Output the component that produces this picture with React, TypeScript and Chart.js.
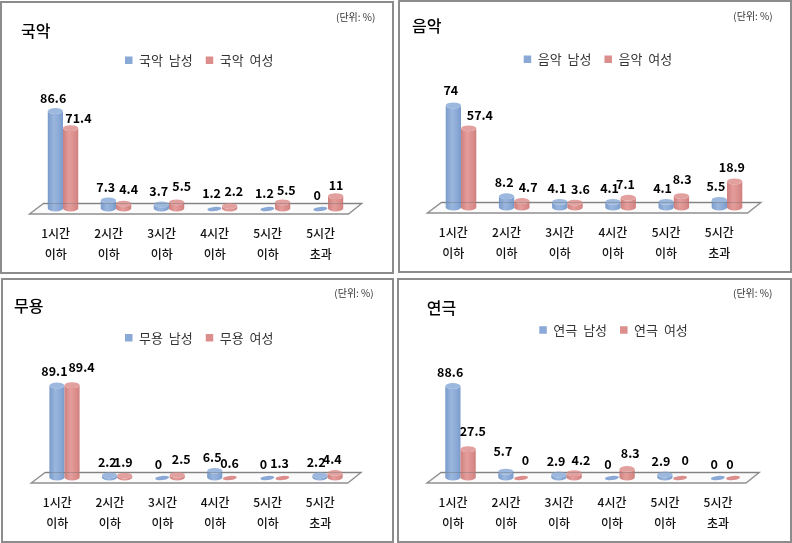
import React, { useEffect, useRef } from "react";
import { Chart, registerables } from "chart.js";

Chart.register(...registerables);

// ---- data ----
const hourLabels: string[][] = [
  ["1시간", "이하"], ["2시간", "이하"], ["3시간", "이하"],
  ["4시간", "이하"], ["5시간", "이하"], ["5시간", "초과"],
];
const unitLabel = "(단위: %)";

const gugakMale = [86.6, 7.3, 3.7, 1.2, 1.2, 0];
const gugakFemale = [71.4, 4.4, 5.5, 2.2, 5.5, 11];
const musicMale = [74, 8.2, 4.1, 4.1, 4.1, 5.5];
const musicFemale = [57.4, 4.7, 3.6, 7.1, 8.3, 18.9];
const danceMale = [89.1, 2.2, 0, 6.5, 0, 2.2];
const danceFemale = [89.4, 1.9, 2.5, 0.6, 1.3, 4.4];
const theaterMale = [88.6, 5.7, 2.9, 0, 2.9, 0];
const theaterFemale = [27.5, 0, 4.2, 8.3, 0, 0];

// ---- layout (page pixels) ----
const FONT = '"Noto Sans CJK KR", "Noto Sans", sans-serif';
const BLUE = { base: "#8AA9D6", edge: "#7A9BCB", light: "#9AB6DD", cap: "#9DB8DE" };
const RED = { base: "#DB8E8C", edge: "#CE807E", light: "#E49D9B", cap: "#E2A09E" };

type Panel = {
  name: string; male: number[]; female: number[];
  x: number; y: number; w: number; h: number;
  areaL: number; areaR: number; base: number; pxPerUnit: number; labelOffset: number;
  titleX: number; titleY: number; unitX: number; unitY: number; legendX: number; legendY: number;
  maleNudge: number[][]; femaleNudge: number[][];
};

const panels: Panel[] = [
  {
    name: "국악", male: gugakMale, female: gugakFemale,
    x: 0, y: 1, w: 394, h: 273,
    areaL: 36.5, areaR: 354.5, base: 208.5, pxPerUnit: 1.126, labelOffset: -7.3,
    titleX: 21, titleY: 30.5, unitX: 355.7, unitY: 17, legendX: 125, legendY: 60.3,
    maleNudge: [[-2.2, -12.5], [-2.7, -13], [-2.6, -13], [-2.8, -13.4], [-3, -13.4], [-3.2, -13]],
    femaleNudge: [[7.8, -9.5], [5, -14.2], [5.1, -15.7], [4.2, -14.4], [3.7, -12], [0.5, -10.8]],
  },
  {
    name: "음악", male: musicMale, female: musicFemale,
    x: 398, y: 0, w: 394, h: 273,
    areaL: 434.4, areaR: 753.6, base: 207.5, pxPerUnit: 1.38, labelOffset: -7.7,
    titleX: 412, titleY: 26, unitX: 753, unitY: 16, legendX: 523.7, legendY: 59.3,
    maleNudge: [[-2.5, -15], [-2.4, -13.9], [-2.9, -13.2], [-3.4, -13.2], [-3.6, -13.2], [-3.5, -13.3]],
    femaleNudge: [[11.2, -13], [6.3, -13.7], [5.4, -13.2], [-2.8, -13.4], [0.7, -16.4], [-2.8, -14.1]],
  },
  {
    name: "무용", male: danceMale, female: danceFemale,
    x: 1, y: 278, w: 393, h: 265,
    areaL: 38.2, areaR: 353.8, base: 477.5, pxPerUnit: 1.033, labelOffset: -7.2,
    titleX: 14, titleY: 306, unitX: 354, unitY: 293.7, legendX: 125, legendY: 337.7,
    maleNudge: [[-2.5, -13.9], [-2.2, -12.9], [-3.8, -13.2], [-2.6, -13.5], [-3.9, -13.6], [-3.8, -12.9]],
    femaleNudge: [[9.5, -17.8], [-1.5, -13.2], [3.9, -15.6], [-0.3, -13.6], [-2.9, -12.9], [-2.8, -13.7]],
  },
  {
    name: "연극", male: theaterMale, female: theaterFemale,
    x: 397, y: 278, w: 395, h: 265,
    areaL: 434, areaR: 752, base: 477.5, pxPerUnit: 1.033, labelOffset: -7.5,
    titleX: 426.7, titleY: 307.7, unitX: 752.7, unitY: 293.7, legendX: 539.3, legendY: 330,
    maleNudge: [[-2.7, -13.7], [-3, -20.3], [-2.8, -13.2], [-3.9, -13.2], [-3.9, -13.2], [-3.7, -13.2]],
    femaleNudge: [[4.7, -17.8], [4.3, -17.2], [6.9, -12.6], [3.1, -15.6], [5.1, -17.2], [-3.3, -13.2]],
  },
];

function drawCylinder(ctx: CanvasRenderingContext2D, el: any, pal: typeof BLUE) {
  const { x, y, base, width } = el;
  const rx = width / 2;
  const h = base - y;
  ctx.save();
  if (h < 1.5) {
    // nearly empty bar: only a flat disc on the floor
    ctx.beginPath();
    ctx.ellipse(x, base + 0.5, rx * 0.92, 2.1, -0.09, 0, Math.PI * 2);
    ctx.fillStyle = pal.base;
    ctx.fill();
    ctx.restore();
    return;
  }
  const ry = 2.9;
  const g = ctx.createLinearGradient(x - rx, 0, x + rx, 0);
  g.addColorStop(0, pal.edge);
  g.addColorStop(0.4, pal.light);
  g.addColorStop(0.75, pal.base);
  g.addColorStop(1, pal.edge);
  ctx.beginPath();
  ctx.moveTo(x - rx, y);
  ctx.lineTo(x - rx, base);
  ctx.ellipse(x, base, rx, ry, 0, Math.PI, 0, true);
  ctx.lineTo(x + rx, y);
  ctx.ellipse(x, y, rx, ry, 0, 0, Math.PI, false);
  ctx.closePath();
  ctx.fillStyle = g;
  ctx.fill();
  ctx.beginPath();
  ctx.ellipse(x, y, rx, ry, 0, 0, Math.PI * 2);
  ctx.fillStyle = pal.cap;
  ctx.fill();
  ctx.restore();
}

function makePlugin(p: Panel) {
  const setSpacing = (chart: any) => { chart.ctx.wordSpacing = "3px"; };
  return {
    id: "panel3d",
    beforeUpdate: setSpacing,
    beforeDraw: setSpacing,
    afterLayout(chart: any) {
      const t = chart.titleBlock;
      if (t) {
        const w = t.right - t.left;
        t.left = p.titleX - p.x;
        t.right = t.left + w;
        t.top = p.titleY - p.y - 16 * 0.6;
        t.bottom = t.top + 20;
      }
      const l = chart.legend;
      if (l) {
        const pad = l.options.labels.padding;
        const w = l.right - l.left;
        l.left = p.legendX - p.x - pad;
        l.right = l.left + w;
        l.top = p.legendY - p.y - pad - 13 / 2;
        l.bottom = l.top + pad * 2 + 20;
      }
    },
    beforeDatasetsDraw(chart: any) {
      const ctx = chart.ctx;
      const a = chart.chartArea;
      const by = a.bottom;
      ctx.save();
      ctx.beginPath();
      ctx.moveTo(a.left - 7, by + 5.5);
      ctx.lineTo(a.right - 6, by + 5.5);
      ctx.lineTo(a.right + 7.2, by - 5);
      ctx.lineTo(a.left + 7, by - 5);
      ctx.closePath();
      ctx.fillStyle = "#FBFBFB";
      ctx.fill();
      ctx.strokeStyle = "#909090";
      ctx.lineWidth = 1.4;
      ctx.stroke();
      ctx.restore();
    },
    beforeDatasetDraw() {
      return false; // bars are painted as cylinders below, from the same elements
    },
    afterDatasetsDraw(chart: any) {
      const ctx = chart.ctx;
      const a = chart.chartArea;
      const maleBars = chart.getDatasetMeta(0).data;
      const femaleBars = chart.getDatasetMeta(1).data;
      maleBars.forEach((el: any, i: number) => {
        drawCylinder(ctx, el, BLUE);
        drawCylinder(ctx, femaleBars[i], RED);
      });
      ctx.save();
      ctx.strokeStyle = "rgba(110,110,110,0.4)";
      ctx.lineWidth = 1;
      ctx.beginPath();
      ctx.moveTo(a.left + 7, a.bottom - 5);
      ctx.lineTo(a.right + 7.2, a.bottom - 5);
      ctx.stroke();
      ctx.restore();
    },
    afterDraw(chart: any) {
      const ctx = chart.ctx;
      ctx.save();
      ctx.wordSpacing = "0px";
      ctx.textAlign = "center";
      ctx.textBaseline = "middle";
      ctx.fillStyle = "#000000";
      ctx.font = `bold 12.5px ${FONT}`;
      const labelSet = (idx: number, nudges: number[][], values: number[]) => {
        chart.getDatasetMeta(idx).data.forEach((el: any, i: number) => {
          ctx.fillText(String(values[i]), el.x + nudges[i][0], el.y + nudges[i][1]);
        });
      };
      labelSet(0, p.maleNudge, p.male);
      labelSet(1, p.femaleNudge, p.female);
      ctx.font = `10px ${FONT}`;
      ctx.fillStyle = "#333333";
      ctx.fillText(unitLabel, p.unitX - p.x, p.unitY - p.y);
      ctx.restore();
    },
  };
}

function PanelChart({ p }: { p: Panel }) {
  const ref = useRef<HTMLCanvasElement>(null);
  useEffect(() => {
    const chart: any = new Chart(ref.current as HTMLCanvasElement, {
      type: "bar",
      data: {
        labels: hourLabels,
        datasets: [
          { label: `${p.name} 남성`, data: p.male, backgroundColor: BLUE.base, borderWidth: 0, categoryPercentage: 0.575, barPercentage: 1 },
          { label: `${p.name} 여성`, data: p.female, backgroundColor: RED.base, borderWidth: 0, categoryPercentage: 0.575, barPercentage: 1 },
        ],
      },
      options: {
        responsive: false,
        animation: false,
        devicePixelRatio: 1,
        layout: { padding: { left: p.areaL - p.x, right: p.w - (p.areaR - p.x), top: 0, bottom: 0 } },
        plugins: {
          tooltip: { enabled: false },
          title: {
            display: true, text: p.name, align: "start", color: "#000000",
            font: { family: FONT, size: 16, weight: "500", lineHeight: 1.2 }, padding: 0,
          },
          legend: {
            display: true, position: "top", align: "start",
            labels: {
              boxWidth: 7.5, boxHeight: 7.5, padding: 13, color: "#333333",
              font: { family: FONT, size: 13 },
            },
          },
        },
        scales: {
          x: {
            grid: { display: false, drawTicks: false },
            border: { display: false },
            afterFit: (s: any) => { s.height = p.h - (p.base - p.y); },
            ticks: {
              color: "#111111", padding: 15, maxRotation: 0, autoSkip: false,
              labelOffset: p.labelOffset,
              font: { family: FONT, size: 12, weight: "500", lineHeight: 1.71 },
            },
          },
          y: { display: false, min: 0, max: 100 },
        },
      },
      plugins: [makePlugin(p) as any],
    } as any);
    // the value range is set so that the axis has the panel's pixels per percent
    chart.options.scales.y.max = chart.chartArea.height / p.pxPerUnit;
    chart.update();
    return () => chart.destroy();
  }, [p]);
  return (
    <div style={{ position: "absolute", left: p.x, top: p.y, width: p.w, height: p.h }}>
      <canvas ref={ref} width={p.w} height={p.h} style={{ position: "absolute", left: 0, top: 0, width: p.w, height: p.h }} />
      <div style={{ position: "absolute", left: 0, top: 0, width: p.w, height: p.h, boxSizing: "border-box", border: "2px solid #8C8C8C", pointerEvents: "none" }} />
    </div>
  );
}

export default function App() {
  return (
    <div style={{ position: "absolute", left: 0, top: 0, width: 792, height: 543, background: "#fff", overflow: "hidden" }}>
      {panels.map((p) => <PanelChart key={p.name} p={p} />)}
    </div>
  );
}
